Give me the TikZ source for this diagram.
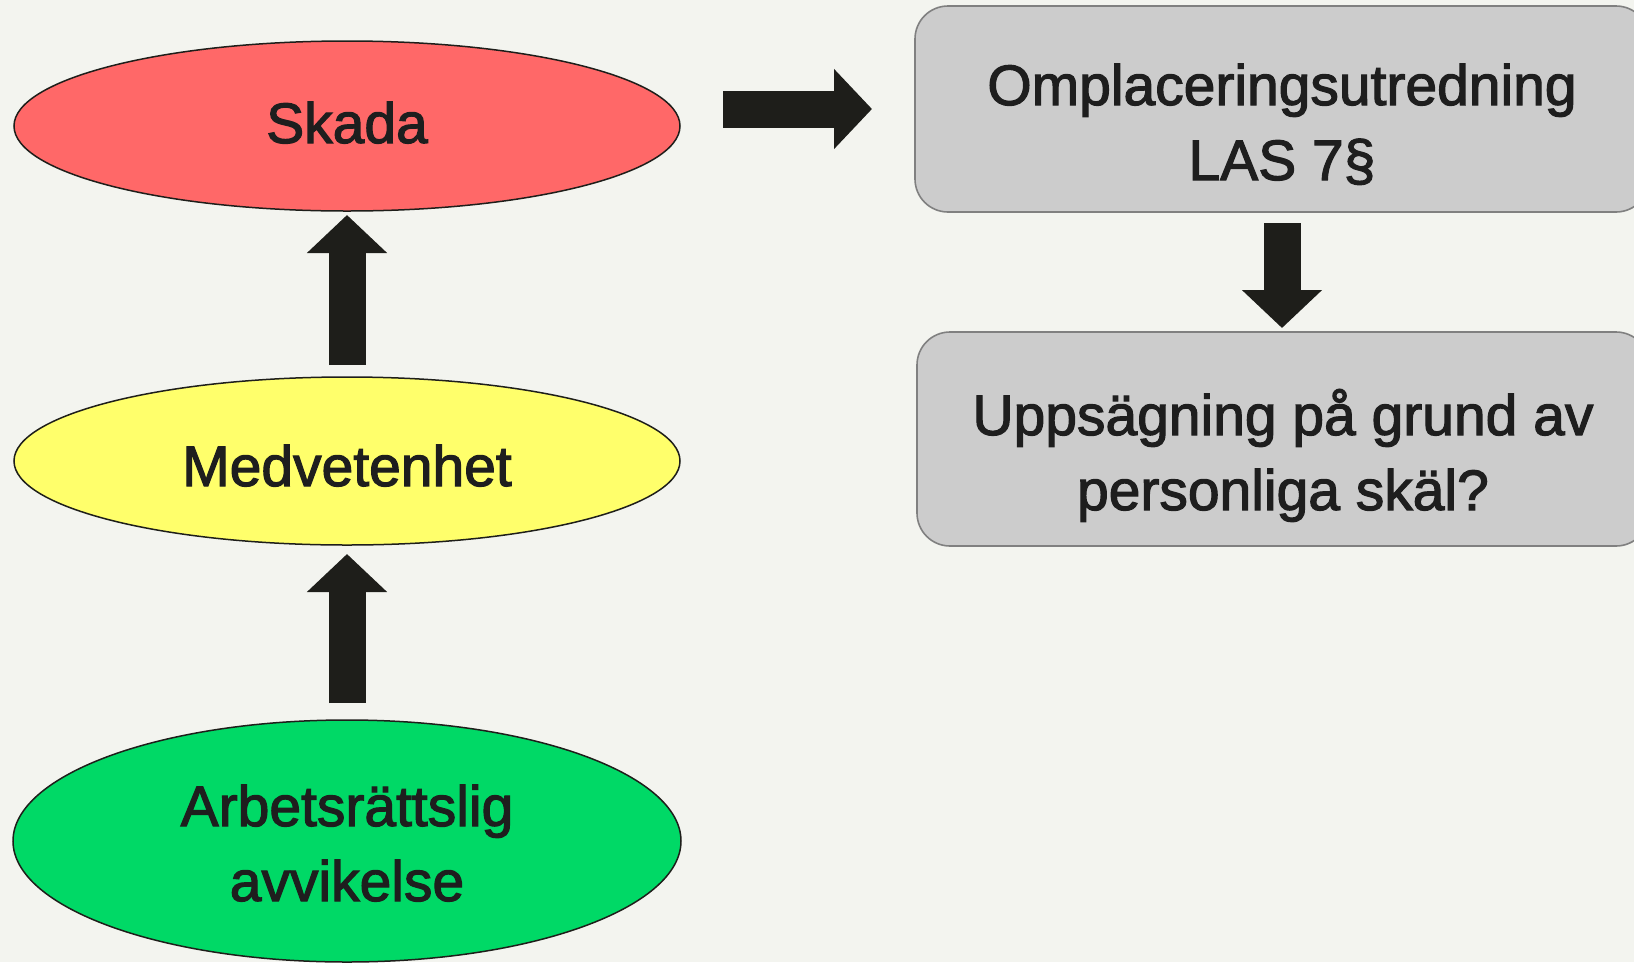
\documentclass[tikz,border=0pt]{standalone}
\usepackage{fontspec}
\setmainfont{Liberation Sans}
\newfontfamily\heavyfont{Liberation Sans}[FakeBold=2]
\usetikzlibrary{shapes.geometric,arrows.meta,calc}
\definecolor{bg}{RGB}{243,244,239}
\definecolor{redfill}{RGB}{255,104,104}
\definecolor{yellowfill}{RGB}{255,255,107}
\definecolor{greenfill}{RGB}{0,217,102}
\definecolor{boxfill}{RGB}{204,204,204}
\definecolor{boxline}{RGB}{128,128,128}
\definecolor{ink}{RGB}{30,30,26}
\definecolor{txt}{RGB}{30,30,30}
\newcommand\firstline[1]{\rule{0pt}{#1}}
\newcommand\lastline{\rule[-14pt]{0pt}{14pt}}
\tikzset{
  x=1pt, y=-1pt,
  label text/.style={font=\heavyfont\fontsize{57}{75}\selectfont, text=txt},
  oval/.style={ellipse, draw=ink, line width=1.5pt, inner sep=0pt, outer sep=0pt,
    label text, align=center},
  roundbox/.style={rectangle, rounded corners=33pt, draw=boxline, fill=boxfill,
    line width=1.6pt, inner sep=0pt, outer sep=0pt, label text, align=center},
  blockarrow/.style={draw=ink, line width=37pt,
    -{Triangle[width=78pt, length=38pt]}},
}
\begin{document}
\begin{tikzpicture}
\useasboundingbox (0,0) rectangle (1634,962);
\clip (0,0) rectangle (1634,962);
\fill[bg] (0,0) rectangle (1634,962);

\node[oval, fill=redfill, minimum width=666pt, minimum height=170pt,
  text height=46pt, text depth=12pt] (skada) at (347,126) {Skada};
\node[oval, fill=yellowfill, minimum width=666pt, minimum height=168pt,
  text height=62pt, text depth=12pt] (medv) at (347,461) {Medvetenhet};
\node[oval, fill=greenfill, minimum width=668pt, minimum height=242pt] (green) at (347,841)
  {\firstline{59pt}Arbetsrättslig\\avvikelse\lastline};

\node[roundbox, minimum width=734pt, minimum height=206pt] (omp) at (1282,109)
  {\firstline{81pt}Omplaceringsutredning\\LAS 7§\lastline};
\node[roundbox, minimum width=732pt, minimum height=214pt] (upps) at (1283,439)
  {\firstline{81pt}Uppsägning på grund av\\personliga skäl?\lastline};

\coordinate (dtop) at ([yshift=-11pt]omp.south);
\coordinate (dtip) at ([yshift=4pt]upps.north);

\draw[blockarrow] ([yshift=12pt]medv.north) -- ([yshift=-4pt]skada.south);
\draw[blockarrow] ([yshift=17pt]green.north) -- ([yshift=-9pt]medv.south);
\draw[blockarrow] ($(skada.east |- omp.west)+(43,0)$) -- ($(omp.west)+(-43,0)$);
\draw[blockarrow] (dtop) -- (dtop |- dtip);
\end{tikzpicture}
\end{document}
